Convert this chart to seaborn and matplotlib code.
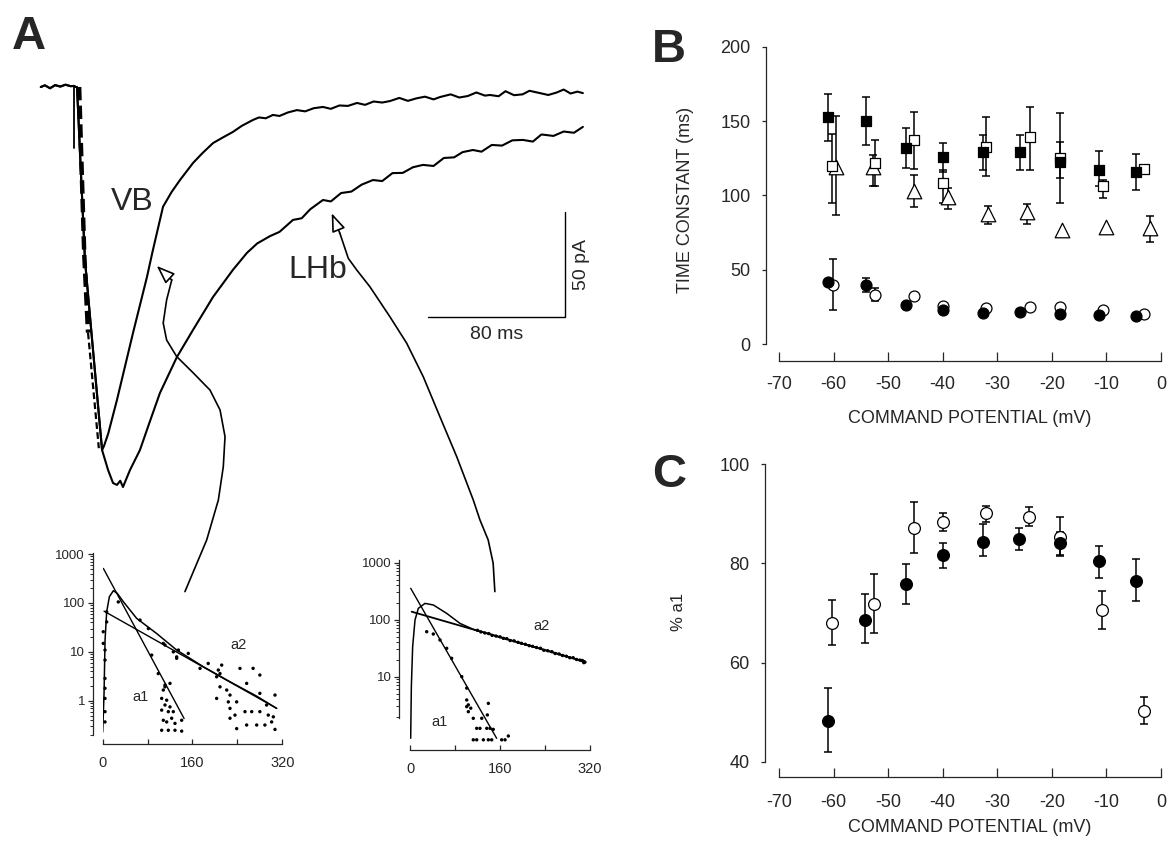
import numpy as np
import matplotlib
matplotlib.use('Agg')
import matplotlib.pyplot as plt
from matplotlib.ticker import NullFormatter
import seaborn as sns

nan = np.nan

# ---------------- Panel A: currents (time in ms, current in pA) ----------------
base_t = [-19.4, -17, -14, -11, -8, -5, -2, 0, 1.0, 1.75, 6.4, 10.2, 16.4]
base_i = [0, 0.8, -0.6, 0.9, 0.2, 1.1, 0.4, 0.5, 0, 0, -82.4, -117.1, -172.9]

vb_t = base_t + [17.5, 20, 25.1, 34.5, 42.6, 46.1, 52, 57, 61.9, 69.5, 75, 81.2, 87, 92.8, 98,
                 104.5, 108, 112, 116.2, 120, 125, 130.2, 135, 140, 145.4, 150, 155, 160, 165.3,
                 170, 175, 180, 184.5, 190, 195, 200, 205, 210, 213.7, 220, 225, 230, 235, 240,
                 242.9, 248, 252, 257, 262, 266, 272.1, 277, 282, 286, 290, 294, 297.2]
vb_i = base_i + [-171, -165, -149, -117, -90.5, -77.6, -57, -50, -44.3, -36.2, -31.5, -26.7, -24,
                 -21.4, -18.5, -15.7, -14.5, -14.9, -13.3, -13.8, -12.1, -11.0, -11.6, -10.1, -9.5,
                 -10.4, -8.8, -9.0, -7.6, -8.5, -6.9, -7.4, -6.7, -5.2, -6.6, -5.4, -4.6, -5.9, -4.8,
                 -3.5, -5.0, -4.3, -2.6, -4.1, -3.8, -4.4, -2.0, -3.9, -3.5, -1.8, -2.9, -3.8, -2.6,
                 -1.2, -3.1, -2.2, -2.9]

lhb_t = base_t + [19.9, 22.8, 25.1, 27, 28.6, 32.7, 38.5, 44, 50.2, 60.1, 69.5, 81.2, 92.8, 101,
                  107, 114.5, 120, 127.9, 133, 138, 145.4, 150, 156, 162, 168, 174.6, 180, 186, 192,
                  198, 203.8, 210, 216, 222, 227, 233, 238, 244, 250, 256, 262.2, 268, 273, 280,
                  286, 292, 297.2]
lhb_i = base_i + [-182.4, -188.6, -189.5, -187.5, -190.5, -182.4, -172.9, -160, -145.7, -128.6,
                  -115.7, -100, -87.1, -79, -74.5, -71.0, -69, -63.3, -62.5, -58.2, -53.8, -54.5,
                  -50.5, -49.8, -46.5, -44.3, -44.8, -41.0, -40.9, -38.2, -37.1, -37.6, -33.8, -33.5,
                  -31.0, -30.0, -30.8, -27.6, -27.9, -25.4, -25.2, -26.0, -22.6, -23.3, -21.2, -21.8,
                  -19.0]

artifact_t = [0, 0]
artifact_i = [0, -29]
fit_t = [3.0, 6.0, 8.2]
fit_i = [0, -80, -117]
fit2_t = [8.2, 14.5]
fit2_i = [-117, -172]

# scale bar: 80 ms, 50 pA
bar_t = [206.7, 286.7, 286.7]
bar_i = [-109.5, -109.5, -59.5]

# connector arrows (ms, pA)
vb_arrow_t = [64.8, 77.5, 84.3, 87.2, 88.2, 85.3, 79.4, 69.7, 60.0, 54.1, 52.1, 54.1, 57.1]
vb_arrow_i = [-240.3, -215.7, -196.7, -180.8, -166.5, -153.8, -144.3, -136.2, -128.4, -120.5,
              -112.4, -101.4, -91.9]
vb_arrow_tip = (48.3, -85.2)
lhb_arrow_t = [245.8, 244.8, 241.9, 237.1, 233.2, 223.5, 213.7, 204.0, 194.3, 184.5, 172.8, 165.1,
               160.2, 155.3]
lhb_arrow_i = [-240.3, -226.8, -215.7, -206.2, -196.7, -176.0, -157.0, -138.0, -122.0, -109.4,
               -95.1, -87.1, -81.6, -69.7]
lhb_arrow_tip = (150.5, -60.1)

# ---------------- Inset 1 (VB), log amplitude vs time ----------------
in1_curve_t = [0, 2.4, 4.2, 7.1, 11.9, 19, 26, 36.8, 60.6, 96, 131.8, 179, 226.8, 274, 310]
in1_curve_y = [0.23, 1.41, 17.4, 66, 134, 178, 157, 106, 48.3, 23.8, 10.9, 5.0, 2.45, 1.25, 0.70]
in1_a1_t = [1.2, 145]
in1_a1_y = [508, 0.435]
in1_a2_t = [2.4, 310]
in1_a2_y = [68, 0.70]
in1_dot_t = [1, 1, 4.1, 4.1, 4.1, 4.1, 4.1, 4.1, 4.1, 7.1, 7.1,
             27.8, 66.5, 81.4, 87.3, 111, 125.8, 131.8, 99, 111, 108, 134.8,
             111, 119.9, 108, 105.1, 114, 111, 119.9, 105.1, 116.9, 125.8, 108, 114, 122.9, 128.8,
             140.7, 105.1, 116.9, 128.8, 140.7,
             152.5, 131.8, 173.4, 209, 188,
             212, 206, 203, 244.6, 268, 280, 256.5, 221, 226.8, 203, 223.8, 238.7, 226.8, 253.5,
             265.5, 280, 292, 280, 307, 235.7, 226.8, 295, 304, 238.7, 256.5, 274.4, 289, 307, 301,
             209]
in1_dot_y = [25.8, 14.9, 10.9, 6.8, 2.87, 1.8, 1.12, 0.6, 0.37, 66, 41,
             105, 44.7, 30, 8.6, 13.8, 10, 7.4, 3.6, 1.93, 14.9, 10.9,
             2.1, 2.27, 1.66, 1.12, 1.03, 0.82, 0.75, 0.645, 0.6, 0.6, 0.40, 0.37, 0.44, 0.345,
             0.40, 0.25, 0.25, 0.25, 0.24,
             9.3, 7.9, 4.6, 3.6, 5.8,
             5.37, 4.25, 3.1, 4.6, 4.6, 3.36, 2.27, 1.66, 1.31, 1.12, 0.95, 0.95, 0.7, 0.6,
             0.6, 0.6, 0.82, 1.42, 1.31, 0.51, 0.44, 0.51, 0.47, 0.27, 0.32, 0.32, 0.32, 0.26, 0.37,
             1.93]

# ---------------- Inset 2 (LHb) ----------------
in2_curve_t = [1.2, 2.4, 4.7, 8.9, 14.8, 26.7, 41.5, 65.2, 88.9, 112.6, 160, 207.4, 254.8, 311]
in2_curve_y = [0.83, 6.7, 33.6, 98.6, 158, 193, 181, 129, 86, 67.5, 49.5, 36.2, 26.6, 18.3]
in2_a1_t = [1.2, 154]
in2_a1_y = [355, 0.83]
in2_a2_t = [3, 311]
in2_a2_y = [138, 18.3]
in2_dot_t = [29.7, 41.4, 53.3, 65.2, 74, 92, 100.8, 100.8, 103.7, 108, 100.8, 103.7, 139.3, 137.5,
             112.5, 127.5, 118.6, 124.4, 136.4, 142.2, 148, 112.5, 118.6, 130.4, 139.2, 145.2, 163,
             169, 174.8,
             120, 126, 133, 140, 146, 153, 160, 166, 172, 178, 185, 192, 198, 205, 212, 218, 225,
             232, 238, 245, 252, 258, 265, 271, 278, 284, 290, 296, 302, 306, 308, 309, 311]
in2_dot_y = [61.5, 56, 44, 31.4, 21, 10, 6.3, 3.9, 3.2, 2.8, 2.98, 2.43, 3.4, 2.13,
             1.86, 1.86, 1.24, 1.24, 1.24, 1.24, 1.19, 0.78, 0.78, 0.78, 0.78, 0.78, 0.78,
             0.78, 0.91,
             65, 61, 58.5, 57, 53, 51.5, 50, 47, 46.5, 43, 42.5, 40, 38.5, 37, 35, 34, 32.5,
             31.5, 29, 28.5, 27.5, 25.5, 25, 23.5, 22.8, 21.5, 21.5, 20, 19.5, 19.2, 18.6, 17.6, 18.0]

# ---------------- Panel B: time constants (ms) ----------------
fsq_x = [-61.0, -54.0, -46.8, -40.0, -32.7, -25.9, -18.5, -11.3, -4.5]
fsq_y = [152.5, 150.3, 131.7, 125.6, 129.2, 129.2, 122.7, 117.0, 116.0]
fsq_hi = [168, 166, 145, 135, 140.6, 140.4, 155.7, 130, 128]
fsq_lo = [136.6, 134, 118.7, 116, 117, 117, 95, 106, 103.5]

osq_x = [-60.2, -52.5, -45.2, -40.0, -32.0, -24.0, -18.5, -10.7, -3.1]
osq_y = [120, 121.6, 137.3, 108.6, 132.8, 139.0, 125.4, 106.0, 117.6]
osq_hi = [141, 137, 156, 117, 152.5, 159.7, 136, 110, nan]
osq_lo = [95, 106, 118, 95, 113, 117, 111.5, 98, nan]

tri_x = [-59.5, -52.8, -45.2, -39.0, -31.7, -24.6, -18.2, -10.0, -2.1]
tri_y = [119, 119.4, 103, 99.2, 87.6, 88.5, 76.8, 79.0, 78.0]
tri_hi = [153.4, 127, 114, 105, 93, 94.3, nan, nan, 85.8]
tri_lo = [87, 106, 92, 91, 80.6, 80.9, nan, nan, 68.3]

fci_x = [-61.0, -54.0, -46.8, -40.0, -32.7, -25.9, -18.5, -11.3, -4.5]
fci_y = [41.7, 39.4, 26.2, 23.0, 20.8, 21.3, 20.4, 19.7, 18.6]
fci_hi = [nan, 44.3, nan, nan, nan, nan, nan, nan, nan]
fci_lo = [nan, 35.0, nan, nan, nan, nan, nan, nan, nan]

oci_x = [-60.1, -52.5, -45.2, -40.0, -32.0, -24.0, -18.5, -10.7, -3.1]
oci_y = [39.9, 33.1, 32.0, 25.8, 24.2, 24.9, 24.9, 23.0, 20.4]
oci_hi = [57.3, 37.6, nan, nan, nan, nan, nan, nan, nan]
oci_lo = [23.0, 29.0, nan, nan, nan, nan, nan, nan, nan]

# ---------------- Panel C: % a1 ----------------
c_f_x = [-61.1, -54.2, -46.8, -40.0, -32.7, -26.0, -18.5, -11.3, -4.5]
c_f_y = [48.2, 68.6, 75.8, 81.7, 84.4, 84.9, 84.2, 80.5, 76.5]
c_f_hi = [54.9, 73.8, 79.9, 84.2, 87.9, 87.1, 86.4, 83.6, 80.9]
c_f_lo = [41.9, 63.9, 71.9, 79.0, 81.4, 82.7, 81.5, 77.1, 72.4]

c_o_x = [-60.2, -52.6, -45.2, -40.0, -32.1, -24.1, -18.5, -10.9, -3.1]
c_o_y = [67.9, 71.8, 87.1, 88.4, 90.1, 89.3, 85.3, 70.6, 50.2]
c_o_hi = [72.6, 77.8, 92.3, 90.2, 91.6, 91.3, 89.3, 74.5, 53.1]
c_o_lo = [63.5, 65.9, 82.2, 86.6, 88.4, 87.5, 81.7, 66.7, 47.6]

sns.set_style('ticks')
plt.rcParams['font.family'] = ['Liberation Sans', 'DejaVu Sans']
plt.rcParams['axes.linewidth'] = 0.9
plt.rcParams['axes.unicode_minus'] = False

fig = plt.figure(figsize=(11.75, 8.41), dpi=100)

# ---- A: traces ----
axA = fig.add_axes([0.02553, 0.28656, 0.4851, 0.6421])
axA.set_xlim(-25.7, 307.2)
axA.set_ylim(-244.3, 12.86)
axA.set_axis_off()
sns.lineplot(x=vb_t, y=vb_i, sort=False, estimator=None, color='black', lw=1.5, ax=axA)
sns.lineplot(x=lhb_t, y=lhb_i, sort=False, estimator=None, color='black', lw=1.5, ax=axA)
axA.plot(artifact_t, artifact_i, color='black', lw=1.3)
axA.plot(fit_t, fit_i, color='black', lw=3.2, dashes=(3, 1.2))
axA.plot(fit2_t, fit2_i, color='black', lw=1.6, dashes=(3, 1.5))
axA.plot(bar_t, bar_i, color='black', lw=1.0)
axA.text(246.7, -114, '80 ms', ha='center', va='top', fontsize=14)
axA.text(296.5, -84.5, '50 pA', ha='center', va='center', rotation=90, fontsize=14)
axA.text(33.9, -54.8, 'VB', ha='center', va='center', fontsize=23)
axA.text(142.5, -87.1, 'LHb', ha='center', va='center', fontsize=23)
for at, ai, tip in [(vb_arrow_t, vb_arrow_i, vb_arrow_tip), (lhb_arrow_t, lhb_arrow_i, lhb_arrow_tip)]:
    axA.plot(at, ai, color='black', lw=1.2, clip_on=False)
    axA.annotate('', xy=tip, xytext=(at[-1], ai[-1]),
                 arrowprops=dict(arrowstyle='-|>,head_length=0.8,head_width=0.3', fc='white',
                                 ec='black', lw=1.2, shrinkA=0, shrinkB=0, mutation_scale=14))


def style_inset(ax, ymin, ymax, yticks, yminor, left_off, bottom_off, spine_lo):
    ax.set_facecolor('none')
    ax.set_yscale('log')
    ax.set_xlim(0, 320)
    ax.set_ylim(ymin, ymax)
    ax.set_xticks([0, 160, 320])
    ax.set_xticks([80, 240], minor=True)
    ax.set_yticks(yticks)
    ax.set_yticklabels([str(v) for v in yticks])
    ax.set_yticks(yminor, minor=True)
    ax.yaxis.set_minor_formatter(NullFormatter())
    sns.despine(ax=ax, offset=dict(left=left_off, bottom=bottom_off))
    ax.spines['left'].set_bounds(spine_lo, ymax)
    ax.spines['bottom'].set_bounds(0, 320)
    ax.tick_params(axis='x', which='both', direction='in', length=3.5, width=0.9, pad=8.5, labelsize=10.5)
    ax.tick_params(axis='y', which='major', direction='out', length=3.5, width=0.9, pad=2, labelsize=9.5)
    ax.tick_params(axis='y', which='minor', direction='out', length=2.2, width=0.7)


minor1 = [m * 10.0 ** e for e in range(-1, 3) for m in range(2, 10) if m * 10.0 ** e >= 0.2]
ax1 = fig.add_axes([0.08740, 0.12604, 0.15285, 0.21641])
sns.scatterplot(x=in1_dot_t, y=in1_dot_y, s=6, color='black', edgecolor='none', ax=ax1, clip_on=False)
sns.lineplot(x=in1_curve_t, y=in1_curve_y, sort=False, estimator=None, color='black', lw=1.1, ax=ax1)
ax1.plot(in1_a1_t, in1_a1_y, color='black', lw=1.0)
ax1.plot(in1_a2_t, in1_a2_y, color='black', lw=1.0)
style_inset(ax1, 0.2, 1050, [1, 10, 100, 1000], minor1, 7.2, 6.5, 0.2)
ax1.text(66.5, 1.2, 'a1', ha='center', va='center', fontsize=10.5)
ax1.text(241.6, 13.8, 'a2', ha='center', va='center', fontsize=10.5)

minor2 = [m * 10.0 ** e for e in range(0, 3) for m in range(2, 10)]
ax2 = fig.add_axes([0.34894, 0.11772, 0.15319, 0.21641])
sns.scatterplot(x=in2_dot_t, y=in2_dot_y, s=6, color='black', edgecolor='none', ax=ax2, clip_on=False)
sns.lineplot(x=in2_curve_t, y=in2_curve_y, sort=False, estimator=None, color='black', lw=1.1, ax=ax2)
ax2.plot(in2_a1_t, in2_a1_y, color='black', lw=1.0)
ax2.plot(in2_a2_t, in2_a2_y, color='black', lw=1.3)
style_inset(ax2, 0.714, 1114, [10, 100, 1000], minor2, 7.7, 5.8, 1.9)
ax2.text(53.3, 1.62, 'a1', ha='center', va='center', fontsize=10.5)
ax2.text(234, 77.5, 'a2', ha='center', va='center', fontsize=10.5)


def err_series(ax, x, y, lo, hi):
    x = np.array(x); y = np.array(y); lo = np.array(lo); hi = np.array(hi)
    ax.errorbar(x, y, yerr=[y - lo, hi - y], fmt='none', ecolor='black', elinewidth=1.1,
                capsize=3, capthick=1.1, zorder=2)


def style_panel(ax, ylim, yticks, left_off, bottom_off, xpad):
    ax.set_xlim(-70, 0)
    ax.set_ylim(*ylim)
    ax.set_xticks(range(-70, 1, 10))
    ax.set_yticks(yticks)
    sns.despine(ax=ax, offset=dict(left=left_off, bottom=bottom_off))
    ax.tick_params(axis='x', direction='in', length=6.5, width=0.9, pad=xpad, labelsize=13)
    ax.tick_params(axis='y', direction='out', length=3, width=0.9, pad=8, labelsize=13)


# ---- B ----
axB = fig.add_axes([0.66298, 0.59096, 0.32511, 0.35351])
for xs, ys, lo, hi in [(fsq_x, fsq_y, fsq_lo, fsq_hi), (osq_x, osq_y, osq_lo, osq_hi),
                       (tri_x, tri_y, tri_lo, tri_hi), (fci_x, fci_y, fci_lo, fci_hi),
                       (oci_x, oci_y, oci_lo, oci_hi)]:
    err_series(axB, xs, ys, lo, hi)
sns.scatterplot(x=tri_x, y=tri_y, marker='^', s=110, color='white', edgecolor='black', linewidth=0.9, ax=axB, zorder=3)
sns.scatterplot(x=osq_x, y=osq_y, marker='s', s=52, color='white', edgecolor='black', linewidth=0.9, ax=axB, zorder=3)
sns.scatterplot(x=fsq_x, y=fsq_y, marker='s', s=58, color='black', edgecolor='black', linewidth=0.9, ax=axB, zorder=4)
sns.scatterplot(x=oci_x, y=oci_y, marker='o', s=62, color='white', edgecolor='black', linewidth=0.9, ax=axB, zorder=3)
sns.scatterplot(x=fci_x, y=fci_y, marker='o', s=62, color='black', edgecolor='black', linewidth=0.9, ax=axB, zorder=4)
style_panel(axB, (0, 200), [0, 50, 100, 150, 200], 9.4, 12.2, 11)
axB.set_xlabel('COMMAND POTENTIAL (mV)', fontsize=13)
axB.set_ylabel('TIME CONSTANT (ms)', fontsize=13)
axB.xaxis.set_label_coords(0.5, -0.222)
axB.yaxis.set_label_coords(-0.2225, 0.484)

# ---- C ----
axC = fig.add_axes([0.66298, 0.09429, 0.32511, 0.35363])
err_series(axC, c_f_x, c_f_y, c_f_lo, c_f_hi)
err_series(axC, c_o_x, c_o_y, c_o_lo, c_o_hi)
sns.scatterplot(x=c_o_x, y=c_o_y, marker='o', s=72, color='white', edgecolor='black', linewidth=0.9, ax=axC, zorder=3)
sns.scatterplot(x=c_f_x, y=c_f_y, marker='o', s=72, color='black', edgecolor='black', linewidth=0.9, ax=axC, zorder=4)
style_panel(axC, (40, 100), [40, 60, 80, 100], 10, 11, 12.5)
axC.set_xlabel('COMMAND POTENTIAL (mV)', fontsize=13)
axC.set_ylabel('% a1', fontsize=12)
axC.xaxis.set_label_coords(0.5, -0.193)
axC.yaxis.set_label_coords(-0.243, 0.503)

# panel letters
fig.text(12 / 1175, 1 - 49 / 841, 'A', fontsize=34, fontweight='bold', va='baseline')
fig.text(652 / 1175, 1 - 62 / 841, 'B', fontsize=34, fontweight='bold', va='baseline')
fig.text(652 / 1175, 1 - 487 / 841, 'C', fontsize=34, fontweight='bold', va='baseline')

fig.savefig('out.png', dpi=100)
